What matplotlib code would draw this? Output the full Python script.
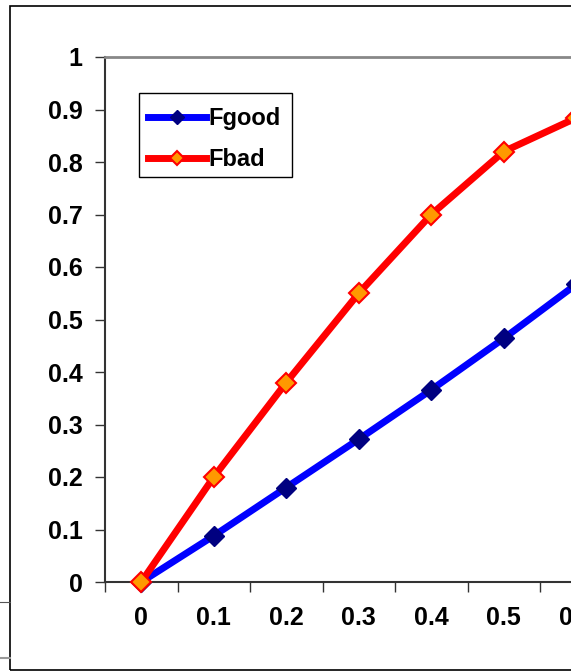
import numpy as np
import matplotlib.pyplot as plt
from matplotlib.patches import Rectangle
from matplotlib.lines import Line2D

plt.rcParams['font.family'] = ['Liberation Sans', 'DejaVu Sans']
plt.rcParams['font.weight'] = 'bold'

# data read from the (cropped) chart
categories = ['0', '0.1', '0.2', '0.3', '0.4', '0.5', '0.6']
fgood = [0.0, 0.088, 0.18, 0.272, 0.366, 0.464, 0.567]
fbad = [0.0, 0.20, 0.38, 0.55, 0.70, 0.82, 0.884]
yticks = [0, 0.1, 0.2, 0.3, 0.4, 0.5, 0.6, 0.7, 0.8, 0.9, 1]

W, H = 571, 671
fig = plt.figure(figsize=(W / 100, H / 100), dpi=100)

# outer chart border (the chart continues past the right edge)
fig.patches.append(Rectangle((10 / W, 1 - 670 / H), 2, (670 - 6) / H,
                             transform=fig.transFigure, fill=False,
                             edgecolor='black', lw=1.2))
# bits of a neighbouring chart at the left edge
fig.add_artist(Line2D([0, 10 / W], [1 - 602 / H] * 2, color='#555555', lw=0.8,
                      transform=fig.transFigure))
fig.add_artist(Line2D([0, 10 / W], [1 - 658 / H] * 2, color='#999999', lw=1.5,
                      transform=fig.transFigure))

# plot area, wider than the picture: categories run on off the right side
step = 72.5
ax = fig.add_axes([105 / W, (H - 582) / H, 11 * step / W, 525 / H])
x = np.arange(len(categories))

ax.plot(x, fgood, color='#0000FF', lw=5, marker='D', ms=10,
        mfc='#000080', mec='#000080', label='Fgood', clip_on=False, zorder=3)
ax.plot(x, fbad, color='#FF0000', lw=5, marker='D', ms=10,
        mfc='#FF9900', mec='#FF0000', mew=1.5, label='Fbad', clip_on=False,
        zorder=4)

ax.set_xlim(-0.5, 10.5)
ax.set_ylim(0, 1)
ax.set_yticks(yticks)
ax.set_yticklabels([f'{v:g}' for v in yticks])
ax.tick_params(axis='y', direction='out', length=7, width=1, labelsize=18,
               pad=9, color='#333333')
ax.set_xticks(x)
ax.set_xticklabels(categories)
ax.set_xticks(np.arange(-0.5, 10.5, 1), minor=True)
ax.tick_params(axis='x', which='major', length=0, labelsize=18, pad=17)
ax.tick_params(axis='x', which='minor', direction='out', length=7, width=1,
               color='#333333')

for s in ['left', 'bottom']:
    ax.spines[s].set_color('#333333')
    ax.spines[s].set_linewidth(1.5)
ax.spines['top'].set_color('#888888')
ax.spines['top'].set_linewidth(2)
ax.spines['right'].set_visible(False)

# legend box drawn separately so the entries can sit where Excel put them
ax.add_artist(Rectangle((139 / W, 1 - 177 / H), 153 / W, 84 / H,
                        transform=fig.transFigure, facecolor='white',
                        edgecolor='black', lw=1, zorder=5))
leg = ax.legend(loc='upper left', bbox_to_anchor=((139 - 105) / (11 * step), (582 - 98) / 525),
                fontsize=17, frameon=False, handlelength=2.45,
                handletextpad=0.1, borderpad=0.4, labelspacing=0.75,
                borderaxespad=0)
leg.set_zorder(6)
for h in leg.legend_handles:
    h.set_markersize(7)

fig.savefig('out.png', dpi=100)
